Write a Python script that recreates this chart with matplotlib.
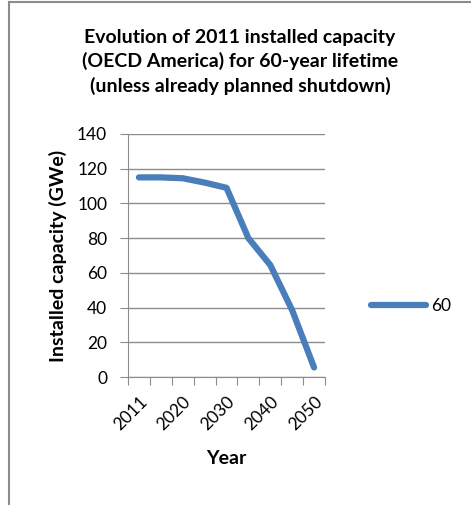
import matplotlib
matplotlib.use('Agg')
import matplotlib.pyplot as plt
from matplotlib.lines import Line2D

years = ['2011', '2015', '2020', '2025', '2030', '2035', '2040', '2045', '2050']
capacity = [115, 115, 114.5, 112, 109, 80, 64.5, 38.5, 5.5]
yticks = [0, 20, 40, 60, 80, 100, 120, 140]

plt.rcParams['font.family'] = ['Lato', 'DejaVu Sans']
blue = '#4a7ebb'

fig = plt.figure(figsize=(4.71, 5.05), dpi=100)
W, H = 471, 505
# plot area in pixels: left 128, right 325, top 134, bottom 377
ax = fig.add_axes([128 / W, 1 - 377 / H, (325 - 128) / W, (377 - 134) / H])

x = list(range(len(years)))
ax.plot(x, capacity, color=blue, lw=4.5, solid_capstyle='round', solid_joinstyle='round')
ax.set_xlim(-0.5, len(years) - 0.5)
ax.set_ylim(0, 140)
ax.set_yticks(yticks)
ax.set_yticklabels([str(v) for v in yticks], fontsize=12.5)
ax.yaxis.grid(True, color='#8c8c8c', lw=1)
ax.set_axisbelow(True)

# category axis: ticks between categories, labels every other category
ax.set_xticks([i - 0.5 for i in range(len(years) + 1)])
ax.set_xticklabels([])
ax.set_xticks(x[::2], minor=True)
ax.set_xticklabels(years[::2], minor=True, rotation=45, ha='right', va='top',
                   rotation_mode='anchor', fontsize=12.5)
ax.tick_params(axis='x', which='minor', length=0, pad=12)
ax.tick_params(axis='both', which='major', length=6, color='#8c8c8c', direction='out')
ax.tick_params(axis='y', pad=9)
for s in ['top', 'right']:
    ax.spines[s].set_visible(False)
for s in ['left', 'bottom']:
    ax.spines[s].set_color('#8c8c8c')

ax.set_ylabel('Installed capacity (GWe)', fontsize=14, fontweight='bold', labelpad=7)
ax.set_xlabel('Year', fontsize=14, fontweight='bold', labelpad=12)

fig.text(240 / W, 1 - 62 / H,
         'Evolution of 2011 installed capacity\n(OECD America) for 60-year lifetime\n(unless already planned shutdown)',
         ha='center', va='center', fontsize=14, fontweight='bold', linespacing=1.4)

handle = Line2D([0], [0], color=blue, lw=4.5, solid_capstyle='round')
fig.legend([handle], ['60'], loc='center left', bbox_to_anchor=(355 / W, 1 - 306 / H),
           frameon=False, fontsize=12.5, handlelength=3.2, handletextpad=0.3)

# chart border (top and left only visible)
fig.add_artist(Line2D([9 / W, 9 / W], [0, 1 - 2 / H], color='#8c8c8c', lw=1.5))
fig.add_artist(Line2D([9 / W, 1], [1 - 2 / H, 1 - 2 / H], color='#8c8c8c', lw=1.5))

fig.savefig('out.png', dpi=100)
